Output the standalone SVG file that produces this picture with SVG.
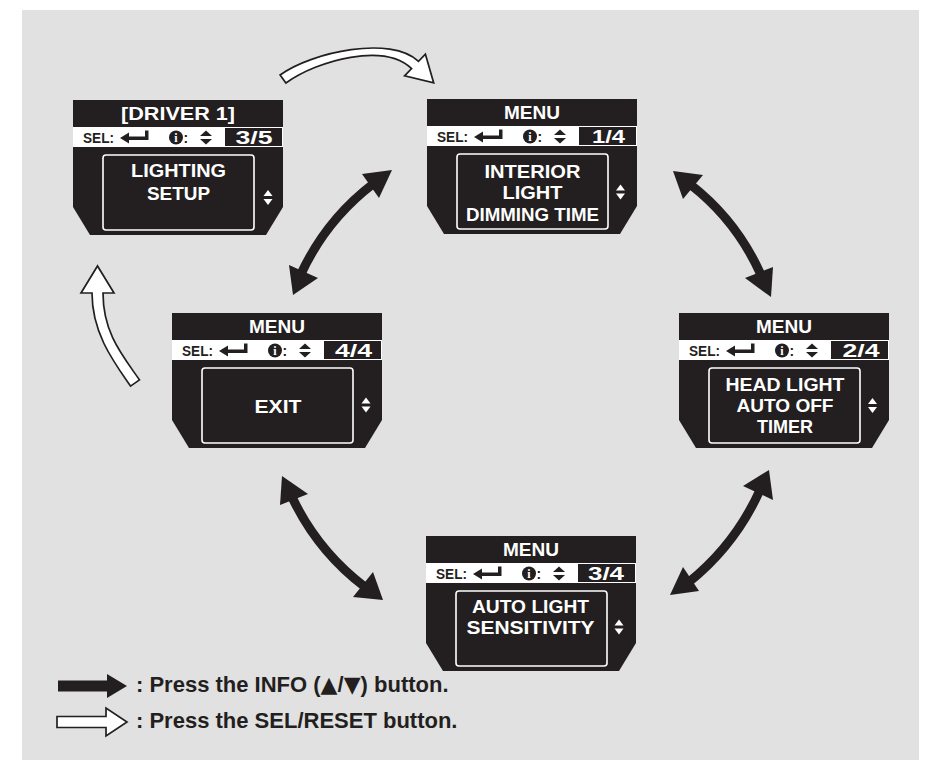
<svg xmlns="http://www.w3.org/2000/svg" xmlns:xlink="http://www.w3.org/1999/xlink" width="940" height="766" viewBox="0 0 940 766">
<style>
.bk{fill:#231f20}
.wt{fill:#ffffff}
.ttl{font-family:"Liberation Sans","DejaVu Sans",sans-serif;font-weight:bold;font-size:18px;fill:#fff;text-anchor:middle}
.num{font-family:"Liberation Sans","DejaVu Sans",sans-serif;font-weight:bold;font-size:19px;fill:#fff;text-anchor:middle}
.sel{font-family:"Liberation Sans","DejaVu Sans",sans-serif;font-weight:bold;font-size:14px;fill:#231f20}
.info{font-family:"Liberation Serif","DejaVu Serif",serif;font-weight:bold;font-size:12px;fill:#fff;text-anchor:middle}
.lbl{font-family:"Liberation Sans","DejaVu Sans",sans-serif;font-weight:bold;font-size:18px;fill:#fff;text-anchor:middle}
.leg{font-family:"Liberation Sans","DejaVu Sans",sans-serif;font-weight:bold;font-size:22px;fill:#231f20}
.tri{font-family:"DejaVu Sans",sans-serif;font-size:22px}
.shaft{fill:none;stroke:#231f20;stroke-width:9}
.hollow{fill:#fff;stroke:#231f20;stroke-width:1.7;stroke-linejoin:miter}
</style>
<defs>
<g id="base">
<path class="bk" d="M0,0H210V107L193,135H17L0,107Z"/>
<rect class="wt" x="0" y="27" width="210" height="20"/>
<rect class="bk" x="152" y="28" width="57" height="18"/>
<text class="sel" x="10" y="42.5" textLength="31" lengthAdjust="spacingAndGlyphs">SEL:</text>
<path class="bk" d="M47,38L56,32.5V36.5H72V30.5H75.5V40H56V43.5Z"/>
<circle class="bk" cx="103" cy="37.5" r="7"/>
<text class="info" x="103" y="42">i</text>
<text class="sel" x="110.5" y="42.5">:</text>
<polygon class="bk" points="127,36 133,30.5 139,36"/>
<polygon class="bk" points="127,39 139,39 133,44.5"/>
<rect x="30" y="55" width="151" height="75" rx="3" fill="none" stroke="#fff" stroke-width="1.6"/>
</g>
<g id="ud">
<polygon class="wt" points="-4.5,-1.5 0,-7.5 4.5,-1.5"/>
<polygon class="wt" points="-4.5,1.5 4.5,1.5 0,7.5"/>
</g>
</defs>
<rect x="22" y="10" width="897" height="750" fill="#e1e1e1"/>

<g id="connectors">
<path class="shaft" d="M301,274Q326,220 373,184"/>
<polygon class="bk" points="293,295 289,265 318,278"/>
<polygon class="bk" points="392,170 362,174 379,198"/>
<path class="shaft" d="M691,185Q737,221 761,275"/>
<polygon class="bk" points="673,171 703,175 683,199"/>
<polygon class="bk" points="771,297 745,278 773,267"/>
<path class="shaft" d="M292,497Q317.5,551 365,587"/>
<polygon class="bk" points="282,476 280,505 308,494"/>
<polygon class="bk" points="383,600 353,597 373,572"/>
<path class="shaft" d="M760,490Q735.5,544.5 689,582"/>
<polygon class="bk" points="769,470 743,486 773,500"/>
<polygon class="bk" points="670,595 683,567 699,591"/>
<path class="hollow" d="M280.1,75C312.5,51.7 391,35.2 418.5,61.4L425.4,54.2L433.7,82.9L404.6,75.8L411.6,68.6C384.2,42.4 318.3,59.9 285.9,83Z"/>
<path class="hollow" d="M139.5,379.9C122.4,355.3 103,333 103,293L114,293L97.5,266L81,293L92,293C92,333 113.4,361.5 130.5,386.1Z"/>
</g>

<g id="driver1" transform="translate(73,100)">
<use xlink:href="#base" href="#base"/>
<text class="ttl" x="105" y="20" textLength="114" lengthAdjust="spacingAndGlyphs">[DRIVER 1]</text>
<text class="num" x="181" y="44" textLength="37" lengthAdjust="spacingAndGlyphs">3/5</text>
<text class="lbl" x="105.5" y="77" textLength="95" lengthAdjust="spacingAndGlyphs">LIGHTING</text>
<text class="lbl" x="105.5" y="100" textLength="63" lengthAdjust="spacingAndGlyphs">SETUP</text>
<use xlink:href="#ud" href="#ud" transform="translate(195,97.5)"/>
</g>

<g id="menu1" transform="translate(427,99)">
<use xlink:href="#base" href="#base"/>
<text class="ttl" x="105" y="20" textLength="56" lengthAdjust="spacingAndGlyphs">MENU</text>
<text class="num" x="181.5" y="44" textLength="33" lengthAdjust="spacingAndGlyphs">1/4</text>
<text class="lbl" x="105.5" y="79" textLength="96" lengthAdjust="spacingAndGlyphs">INTERIOR</text>
<text class="lbl" x="105.5" y="100" textLength="60" lengthAdjust="spacingAndGlyphs">LIGHT</text>
<text class="lbl" x="105.5" y="122" textLength="133" lengthAdjust="spacingAndGlyphs">DIMMING TIME</text>
<use xlink:href="#ud" href="#ud" transform="translate(193.5,93)"/>
</g>

<g id="menu2" transform="translate(679,313)">
<use xlink:href="#base" href="#base"/>
<text class="ttl" x="105" y="20" textLength="56" lengthAdjust="spacingAndGlyphs">MENU</text>
<text class="num" x="182" y="44" textLength="37" lengthAdjust="spacingAndGlyphs">2/4</text>
<text class="lbl" x="106" y="78" textLength="119" lengthAdjust="spacingAndGlyphs">HEAD LIGHT</text>
<text class="lbl" x="106" y="99" textLength="97" lengthAdjust="spacingAndGlyphs">AUTO OFF</text>
<text class="lbl" x="106" y="120" textLength="56" lengthAdjust="spacingAndGlyphs">TIMER</text>
<use xlink:href="#ud" href="#ud" transform="translate(193.5,92.5)"/>
</g>

<g id="menu3" transform="translate(426,536)">
<use xlink:href="#base" href="#base"/>
<text class="ttl" x="105" y="20" textLength="56" lengthAdjust="spacingAndGlyphs">MENU</text>
<text class="num" x="180" y="44" textLength="36" lengthAdjust="spacingAndGlyphs">3/4</text>
<text class="lbl" x="104.5" y="77" textLength="117" lengthAdjust="spacingAndGlyphs">AUTO LIGHT</text>
<text class="lbl" x="104.5" y="98" textLength="128" lengthAdjust="spacingAndGlyphs">SENSITIVITY</text>
<use xlink:href="#ud" href="#ud" transform="translate(193,91)"/>
</g>

<g id="menu4" transform="translate(172,313)">
<use xlink:href="#base" href="#base"/>
<text class="ttl" x="105" y="20" textLength="56" lengthAdjust="spacingAndGlyphs">MENU</text>
<text class="num" x="181.5" y="44" textLength="37" lengthAdjust="spacingAndGlyphs">4/4</text>
<text class="lbl" x="106" y="100" textLength="47" lengthAdjust="spacingAndGlyphs">EXIT</text>
<use xlink:href="#ud" href="#ud" transform="translate(194,92)"/>
</g>

<g id="legend">
<polygon class="bk" points="58,680.5 107,680.5 107,674 127,686 107,698 107,691.5 58,691.5"/>
<polygon class="hollow" points="57,716.5 106,716.5 106,708 127,722 106,736 106,727.5 57,727.5"/>
<text class="leg" x="136" y="692">: Press the INFO (<tspan class="tri">▲</tspan>/<tspan class="tri">▼</tspan>) button.</text>
<text class="leg" x="136" y="728">: Press the SEL/RESET button.</text>
</g>
</svg>
